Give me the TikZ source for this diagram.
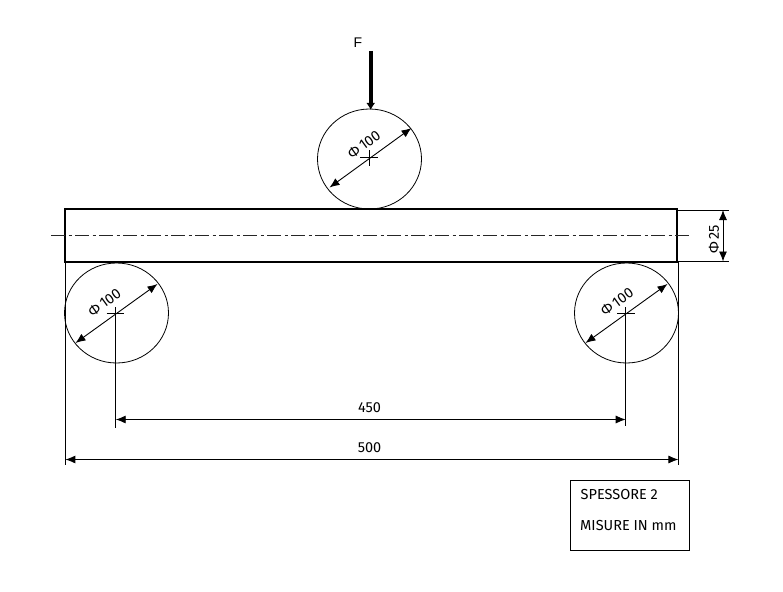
\documentclass[tikz,border=0pt]{standalone}
\usepackage{fontspec}
\setmainfont{Fira Sans}
\newfontfamily\arialf{Liberation Sans}
\usetikzlibrary{arrows.meta,shapes.geometric}
\tikzset{
  thin line/.style={draw=black,line width=0.9pt},
  dim/.style={thin line,{Latex[length=10pt,width=8pt]}-{Latex[length=10pt,width=8pt]}},
  roller/.style={draw=black,line width=0.8pt,ellipse,minimum width=104pt,minimum height=100pt,inner sep=0pt},
  lbl/.style={font=\fontsize{14.5}{17}\selectfont,inner sep=0pt},
  center line/.style={draw=black!85,line width=0.6pt,dash pattern=on 14pt off 3.5pt on 3pt off 3.5pt},
}
\begin{document}
\begin{tikzpicture}[x=1pt,y=-1pt]
\useasboundingbox (0,0) rectangle (783,591);
% beam
\node[draw=black,line width=2pt,inner sep=0pt,rectangle,anchor=north west,minimum width=612pt,minimum height=53pt] (beam) at (64,208) {};
\coordinate (clL) at (51,235);
\coordinate (clR) at (690,235);
\draw[center line] (clL) -- (clR);
% rollers
\node[roller] (top) at (369.5,159) {};
\node[roller] (left) at (116.5,313) {};
\node[roller] (right) at (626.5,313) {};
% force
\coordinate (Fs) at (370.7,51);
\coordinate (Fe) at (370.7,110);
\draw[line width=4pt,-{Latex[length=7pt,width=9pt]}] (Fs) -- (Fe);
\node[font=\arialf\fontsize{14}{16}\selectfont,inner sep=0pt] (Flabel) at (358,43) {F};
% diameter dims
\coordinate (ta) at (329.5,187.5); \coordinate (tb) at (411.5,128);
\coordinate (la) at (75.5,343); \coordinate (lb) at (157.5,284);
\coordinate (ra) at (585.5,343); \coordinate (rb) at (667.5,284);
\draw[dim] (ta) -- (tb);
\draw[dim] (la) -- (lb);
\draw[dim] (ra) -- (rb);
\node[lbl,rotate=36] (tl) at (364,144.5) {Φ\,100};
\node[lbl,rotate=36] (ll) at (104.5,302.5) {Φ\,100};
\node[lbl,rotate=36] (rl) at (617,302) {Φ\,100};
% centre crosses
\coordinate (tc1) at (360,157.5); \coordinate (tc2) at (378,157.5);
\coordinate (tc3) at (369.5,150); \coordinate (tc4) at (369.5,166);
\draw[thin line] (tc1) -- (tc2) (tc3) -- (tc4);
\coordinate (lc1) at (106.5,313); \coordinate (lc2) at (124,313);
\coordinate (lc3) at (115.7,307); \coordinate (lc4) at (115.7,428);
\draw[thin line] (lc1) -- (lc2) (lc3) -- (lc4);
\coordinate (rc1) at (617,313.5); \coordinate (rc2) at (635,313.5);
\coordinate (rc3) at (625.7,307); \coordinate (rc4) at (625.7,426);
\draw[thin line] (rc1) -- (rc2) (rc3) -- (rc4);
% extension lines
\coordinate (eL1) at (65.4,262); \coordinate (eL2) at (65.4,465);
\coordinate (eR1) at (678.4,262); \coordinate (eR2) at (678.4,465);
\draw[thin line] (eL1) -- (eL2) (eR1) -- (eR2);
\coordinate (a1) at (677,210); \coordinate (a2) at (729,210);
\coordinate (b1) at (677,261.5); \coordinate (b2) at (729,261.5);
\draw[thin line] (a1) -- (a2) (b1) -- (b2);
% linear dims
\coordinate (d1a) at (115.7,419.5); \coordinate (d1b) at (625.7,419.5);
\coordinate (d2a) at (65.4,459.5); \coordinate (d2b) at (678.4,459.5);
\draw[dim] (d1a) -- (d1b);
\draw[dim] (d2a) -- (d2b);
\node[lbl] (t450) at (369.5,408) {450};
\node[lbl] (t500) at (369.5,448) {500};
\coordinate (d3a) at (723,210); \coordinate (d3b) at (723,261.5);
\draw[dim] (d3a) -- (d3b);
\node[lbl,rotate=90] (t25) at (714,239.5) {Φ\,25};
% note
\node[draw=black,line width=0.9pt,rectangle,anchor=north west,minimum width=119pt,minimum height=70pt,inner sep=0pt] (note) at (570,480) {};
\node[lbl,anchor=west] (n1) at (580.5,494) {SPESSORE 2};
\node[lbl,anchor=west] (n2) at (580,525) {MISURE IN mm};
\end{tikzpicture}
\end{document}
